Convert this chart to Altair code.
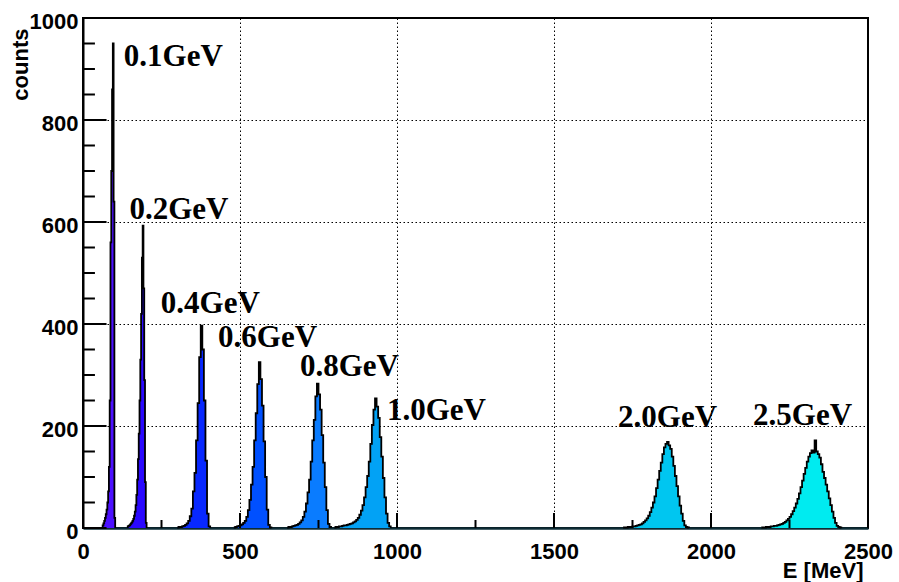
import altair as alt
import pandas as pd

# ---------------- data ----------------
peak_labels = ["0.1GeV", "0.2GeV", "0.4GeV", "0.6GeV", "0.8GeV", "1.0GeV", "2.0GeV", "2.5GeV"]
peak_colors = ["#4c10ff", "#2a08ff", "#0828ff", "#0050ff", "#0a7cff", "#02a2f5", "#00c6f0", "#00ebf0"]

# each histogram: low edge of first bin [MeV], bin width [MeV], counts per bin
h01_start, h01_width = 60, 2.5
h01_counts = [3, 5, 9, 14, 20, 27, 36, 50, 72, 120, 250, 560, 700, 860, 950, 640, 20]

h02_start, h02_width = 140, 2.5
h02_counts = [2, 3, 4, 5, 7, 9, 11, 14, 18, 24, 32, 45, 65, 95, 135, 185, 250, 330, 420, 530,
              593, 470, 290, 90, 10]

h04_start, h04_width = 300, 5
h04_counts = [1, 2, 2, 3, 4, 6, 9, 14, 23, 38, 72, 108, 172, 245, 335, 397, 350, 250, 132, 28, 3]

h06_start, h06_width = 480, 5
h06_counts = [1, 2, 3, 4, 5, 7, 10, 14, 22, 35, 55, 85, 120, 172, 225, 282, 325, 292, 240, 170,
              100, 36, 6, 1]

h08_start, h08_width = 650, 5
h08_counts = [1, 2, 2, 3, 4, 5, 6, 8, 11, 15, 22, 32, 48, 70, 95, 130, 172, 212, 258, 283,
              262, 232, 182, 128, 80, 35, 8, 2]

h10_start, h10_width = 800, 5
h10_counts = [1, 2, 2, 3, 3, 4, 5, 5, 6, 7, 8, 9, 11, 13, 16, 20, 26, 34, 45, 60,
              80, 102, 130, 165, 202, 232, 254, 238, 216, 178, 140, 98, 60, 28, 10, 3]

h20_start, h20_width = 1720, 5
h20_counts = [1, 1, 1, 2, 2, 2, 3, 3, 4, 5, 6, 7, 9, 12, 15, 19, 24, 31, 40, 50,
              62, 78, 95, 112, 128, 145, 158, 165, 169, 162, 155, 140, 122, 102, 82, 62, 44, 28, 14, 5,
              2, 1]

h25_start, h25_width = 2160, 5
h25_counts = [1, 1, 1, 2, 2, 2, 3, 3, 4, 4, 5, 6, 7, 8, 10, 12, 15, 18, 22, 27,
              33, 40, 48, 57, 68, 80, 93, 106, 118, 130, 140, 147, 152, 148, 172, 150, 145, 138, 125, 110,
              98, 85, 72, 58, 45, 32, 20, 10, 4, 2, 1]

# text labels placed in data coordinates (E [MeV], counts)
label_E = [130, 148, 248, 430, 691, 968, 1704, 2134]
label_counts = [906, 605, 421, 355, 299, 211, 198, 201]

# axis ticks
x_major = [0, 500, 1000, 1500, 2000, 2500]
x_minor = [250, 750, 1250, 1750, 2250]
y_major = [0, 200, 400, 600, 800, 1000]
y_minor = [50, 100, 150, 250, 300, 350, 450, 500, 550, 650, 700, 750, 850, 900, 950]

# ---------------- build tables ----------------
hists = [
    (h01_start, h01_width, h01_counts),
    (h02_start, h02_width, h02_counts),
    (h04_start, h04_width, h04_counts),
    (h06_start, h06_width, h06_counts),
    (h08_start, h08_width, h08_counts),
    (h10_start, h10_width, h10_counts),
    (h20_start, h20_width, h20_counts),
    (h25_start, h25_width, h25_counts),
]
rows = []
for lab, (s, w, cs) in zip(peak_labels, hists):
    for i, c in enumerate(cs):
        rows.append({"E": s + i * w, "counts": c, "peak": lab})
    rows.append({"E": s + len(cs) * w, "counts": 0, "peak": lab})
hist_df = pd.DataFrame(rows)

# y-axis inward tick lengths expressed on the E scale (major ~3% of frame width, minor half)
YTICK_MAJOR_LEN = 75
YTICK_MINOR_LEN = 38
ytick_rows = []
for v in y_major:
    ytick_rows.append({"E": 0, "counts": v, "tick": f"M{v}"})
    ytick_rows.append({"E": YTICK_MAJOR_LEN, "counts": v, "tick": f"M{v}"})
for v in y_minor:
    ytick_rows.append({"E": 0, "counts": v, "tick": f"m{v}"})
    ytick_rows.append({"E": YTICK_MINOR_LEN, "counts": v, "tick": f"m{v}"})
ytick_df = pd.DataFrame(ytick_rows)

label_df = pd.DataFrame({"E": label_E, "counts": label_counts, "label": peak_labels})
xmaj_df = pd.DataFrame({"E": x_major})
xmin_df = pd.DataFrame({"E": x_minor})

# ---------------- chart ----------------
W, H = 785, 510
SANS = "Liberation Sans"
SERIF = "Liberation Serif"

x_scale = alt.Scale(domain=[0, 2500], nice=False, zero=False)
y_scale = alt.Scale(domain=[0, 1000], nice=False)

x_axis = alt.Axis(
    values=x_major, format="d", ticks=False, grid=True,
    gridColor="black", gridDash=[1.5, 2.5], gridWidth=1, gridOpacity=1,
    domain=True, domainColor="#0c2c36", domainWidth=2.5,
    labelFont=SANS, labelFontWeight="bold", labelFontSize=22, labelColor="black",
    labelPadding=13, labelFlush=False, labelOverlap=False,
    title="E [MeV]", titleFont=SANS, titleFontWeight="bold", titleFontSize=22,
    titleColor="black", titleAnchor="end", titleAlign="right", titleBaseline="alphabetic",
    titleX=780, titleY=49,
)
y_axis = alt.Axis(
    values=y_major, format="d", ticks=False, grid=True,
    gridColor="black", gridDash=[1.5, 2.5], gridWidth=1, gridOpacity=1,
    domain=True, domainColor="black", domainWidth=2,
    labelFont=SANS, labelFontWeight="bold", labelFontSize=22, labelColor="black",
    labelPadding=5, labelOffset=3, labelOverlap=False,
    title="counts", titleFont=SANS, titleFontWeight="bold", titleFontSize=22,
    titleColor="black", titleAngle=270, titleAnchor="end", titleAlign="right",
    titleBaseline="alphabetic", titleX=-56, titleY=10,
)

X = alt.X("E:Q", scale=x_scale, axis=x_axis, title="E [MeV]")
Y = alt.Y("counts:Q", scale=y_scale, axis=y_axis, title="counts")

area = alt.Chart(hist_df).mark_area(interpolate="step-after").encode(
    x=X,
    y=alt.Y("counts:Q", scale=y_scale, axis=y_axis, title="counts", stack=None),
    color=alt.Color("peak:N", scale=alt.Scale(domain=peak_labels, range=peak_colors), legend=None),
)
outline = alt.Chart(hist_df).mark_line(interpolate="step-after", color="black", strokeWidth=1.8).encode(
    x=X, y=Y, detail="peak:N",
)

# inward ticks on the left axis (short line segments) and on the bottom axis
yticks = alt.Chart(ytick_df).mark_line(color="black", strokeWidth=2).encode(
    x=X, y=Y, detail="tick:N",
)
xtick_major = alt.Chart(xmaj_df).mark_rule(color="black", strokeWidth=2).encode(
    x=X, y=alt.value(H), y2=alt.value(H - 15))
xtick_minor = alt.Chart(xmin_df).mark_rule(color="black", strokeWidth=2).encode(
    x=X, y=alt.value(H), y2=alt.value(H - 8))

texts = alt.Chart(label_df).mark_text(
    align="left", baseline="alphabetic", font=SERIF, fontWeight="bold", fontSize=31, color="black"
).encode(
    x=X, y=Y, text="label:N",
)

chart = alt.layer(
    area, outline, yticks, xtick_major, xtick_minor, texts
).properties(
    width=W, height=H,
    padding={"left": 83, "top": 18, "right": 31, "bottom": 54},
    autosize=alt.AutoSizeParams(type="none"),
    background="white",
).configure_view(stroke="black", strokeWidth=2)

chart.save("out.html", embed_options={"renderer": "svg", "actions": False})
